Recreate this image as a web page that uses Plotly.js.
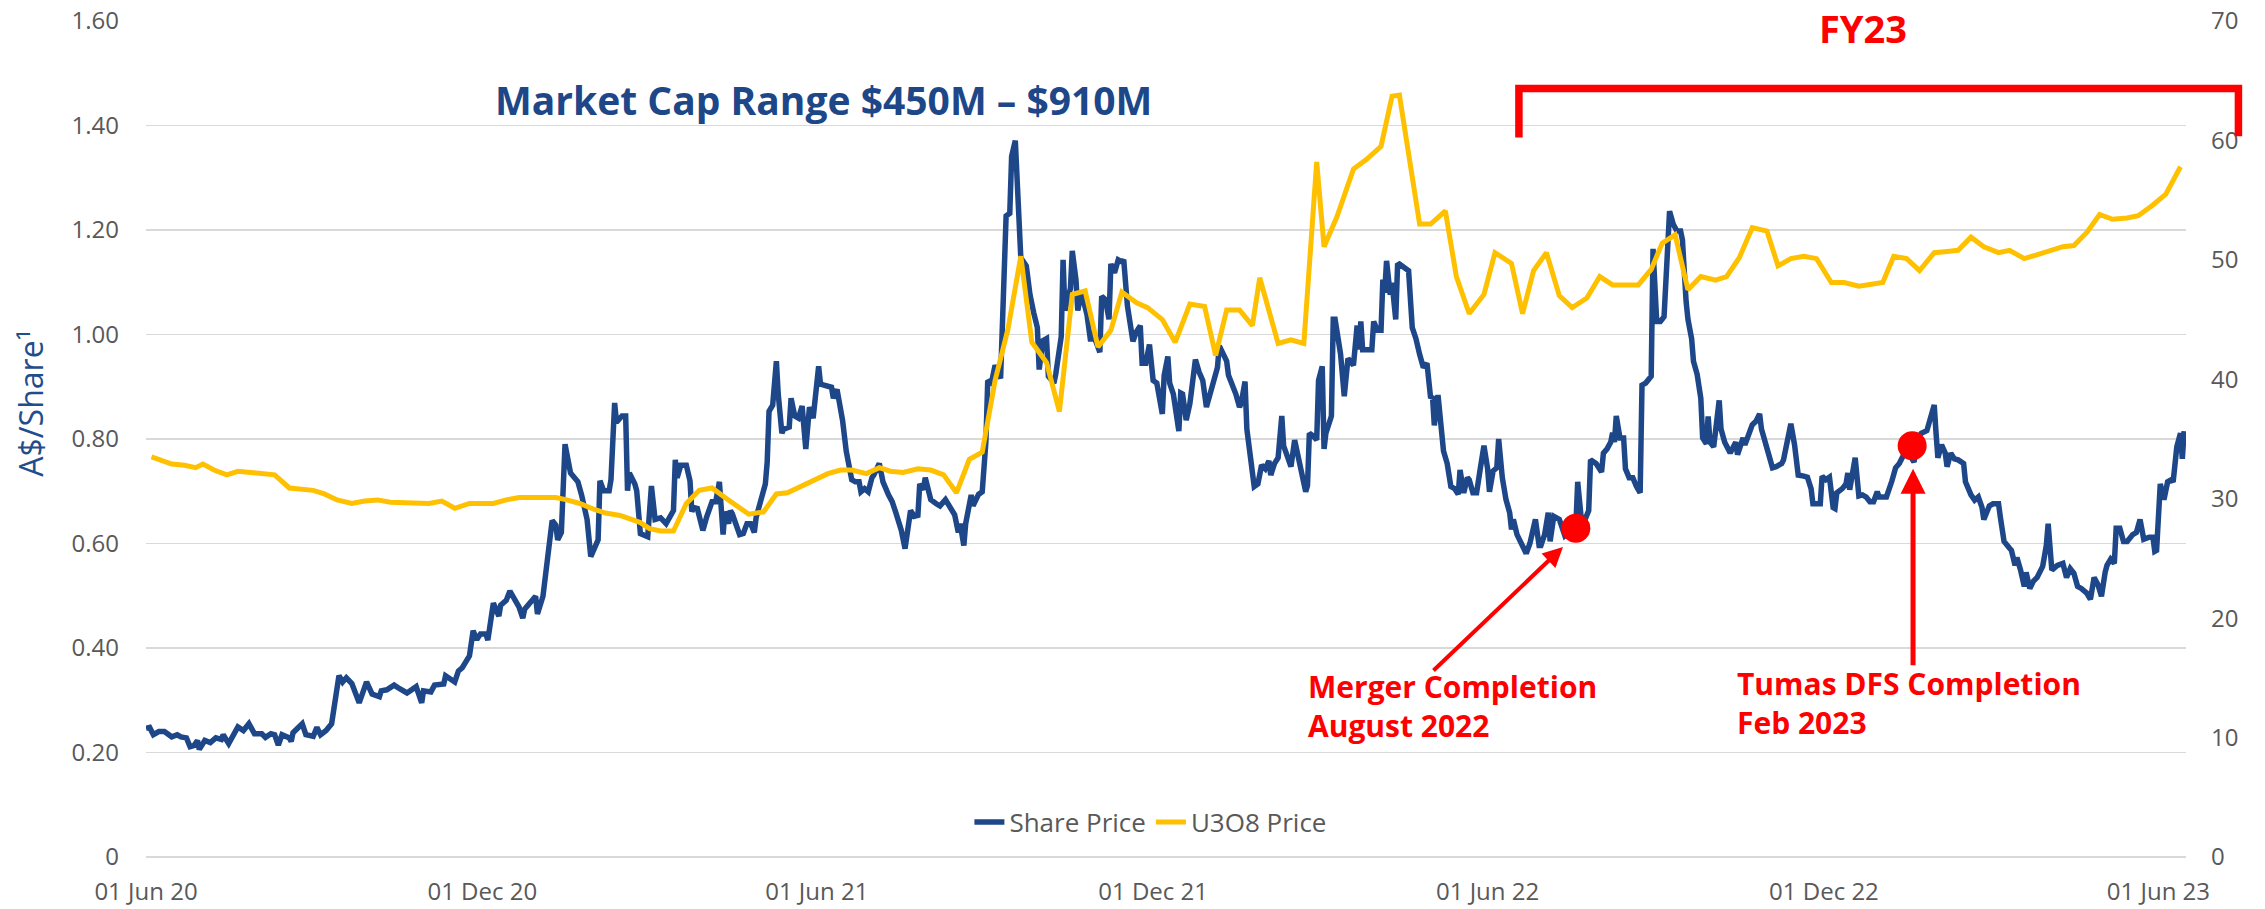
<!DOCTYPE html>
<html>
<head>
<meta charset="utf-8">
<script src="https://cdn.plot.ly/plotly-3.0.1.min.js"></script>
<style>html,body{margin:0;padding:0;background:#fff;}#chart{width:2265px;height:909px;}</style>
</head>
<body>
<div id="chart"></div>
<script>
// ---- Share price (A$/share) ----
const shareDates = [
'2020-06-01','2020-06-03','2020-06-05','2020-06-08','2020-06-11','2020-06-15','2020-06-18','2020-06-20','2020-06-23','2020-06-25','2020-06-27','2020-06-29','2020-06-30',
'2020-07-03','2020-07-06','2020-07-09','2020-07-12','2020-07-13','2020-07-16','2020-07-21','2020-07-24','2020-07-27','2020-07-30',
'2020-08-03','2020-08-05','2020-08-08','2020-08-10','2020-08-12','2020-08-14','2020-08-18','2020-08-19','2020-08-20','2020-08-25','2020-08-27','2020-08-31',
'2020-09-02','2020-09-04','2020-09-07','2020-09-10','2020-09-14','2020-09-16','2020-09-18','2020-09-21','2020-09-25','2020-09-29',
'2020-10-02','2020-10-06','2020-10-07','2020-10-10','2020-10-14','2020-10-17','2020-10-21','2020-10-26','2020-10-29','2020-10-30',
'2020-11-03','2020-11-05','2020-11-10','2020-11-11','2020-11-14','2020-11-16','2020-11-18','2020-11-20','2020-11-24','2020-11-25','2020-11-26','2020-11-28','2020-11-30',
'2020-12-03','2020-12-04','2020-12-07','2020-12-10','2020-12-11','2020-12-14','2020-12-16','2020-12-19','2020-12-21','2020-12-23','2020-12-24','2020-12-30','2020-12-31',
'2021-01-03','2021-01-06','2021-01-08','2021-01-10','2021-01-11','2021-01-13','2021-01-15','2021-01-18','2021-01-20','2021-01-22','2021-01-24','2021-01-27','2021-01-29','2021-01-31',
'2021-02-02','2021-02-03','2021-02-05','2021-02-08','2021-02-09','2021-02-11','2021-02-12','2021-02-15','2021-02-17','2021-02-18','2021-02-19','2021-02-22','2021-02-23','2021-02-25','2021-02-27',
'2021-03-01','2021-03-03','2021-03-05','2021-03-08','2021-03-11','2021-03-15','2021-03-16','2021-03-17','2021-03-19','2021-03-22','2021-03-24','2021-03-25','2021-03-26','2021-03-28','2021-03-31',
'2021-04-02','2021-04-05','2021-04-07','2021-04-09','2021-04-11','2021-04-12','2021-04-14','2021-04-15','2021-04-16','2021-04-18','2021-04-20','2021-04-22','2021-04-24','2021-04-26','2021-04-28','2021-04-29',
'2021-05-02','2021-05-04','2021-05-05','2021-05-06','2021-05-08','2021-05-10','2021-05-11','2021-05-13','2021-05-14','2021-05-17','2021-05-18','2021-05-20','2021-05-22','2021-05-24','2021-05-26','2021-05-28','2021-05-30',
'2021-06-02','2021-06-03','2021-06-06','2021-06-09','2021-06-10','2021-06-12','2021-06-15','2021-06-17','2021-06-20','2021-06-22','2021-06-24','2021-06-25','2021-06-27','2021-06-29',
'2021-07-01','2021-07-02','2021-07-05','2021-07-07','2021-07-10','2021-07-12','2021-07-14','2021-07-17','2021-07-19','2021-07-22','2021-07-24','2021-07-26','2021-07-27','2021-07-29','2021-07-30',
'2021-08-02','2021-08-05','2021-08-07','2021-08-10','2021-08-12','2021-08-15','2021-08-17','2021-08-18','2021-08-20','2021-08-21','2021-08-24','2021-08-25','2021-08-28','2021-08-30',
'2021-09-01','2021-09-02','2021-09-04','2021-09-06','2021-09-09','2021-09-10','2021-09-12','2021-09-14','2021-09-15','2021-09-17','2021-09-18','2021-09-20','2021-09-23','2021-09-25','2021-09-27','2021-09-29','2021-09-30',
'2021-10-02','2021-10-04','2021-10-05','2021-10-08','2021-10-09','2021-10-12','2021-10-13','2021-10-14','2021-10-17','2021-10-18','2021-10-20','2021-10-21','2021-10-23','2021-10-26','2021-10-28','2021-10-29',
'2021-11-01','2021-11-02','2021-11-03','2021-11-05','2021-11-07','2021-11-08','2021-11-10','2021-11-11','2021-11-12','2021-11-14','2021-11-15','2021-11-17','2021-11-20','2021-11-22','2021-11-24','2021-11-25','2021-11-27','2021-11-29',
'2021-12-01','2021-12-03','2021-12-06','2021-12-07','2021-12-09','2021-12-10','2021-12-12','2021-12-15','2021-12-16','2021-12-17','2021-12-19','2021-12-21','2021-12-24','2021-12-26','2021-12-28','2021-12-30',
'2022-01-01','2022-01-04','2022-01-05','2022-01-06','2022-01-08','2022-01-10','2022-01-11','2022-01-13','2022-01-15','2022-01-17','2022-01-18','2022-01-20','2022-01-21','2022-01-23','2022-01-25','2022-01-27','2022-01-29','2022-01-31',
'2022-02-02','2022-02-03','2022-02-05','2022-02-07','2022-02-09','2022-02-10','2022-02-13','2022-02-14','2022-02-16','2022-02-17','2022-02-19','2022-02-20','2022-02-22','2022-02-23','2022-02-24','2022-02-26','2022-02-28',
'2022-03-01','2022-03-03','2022-03-04','2022-03-05','2022-03-08','2022-03-09','2022-03-10','2022-03-13','2022-03-15','2022-03-17','2022-03-20','2022-03-22','2022-03-23','2022-03-24','2022-03-25','2022-03-30','2022-03-31',
'2022-04-02','2022-04-04','2022-04-05','2022-04-06','2022-04-07','2022-04-09','2022-04-10','2022-04-12','2022-04-13','2022-04-14','2022-04-19','2022-04-21','2022-04-23','2022-04-25','2022-04-27','2022-04-29',
'2022-05-01','2022-05-02','2022-05-03','2022-05-05','2022-05-06','2022-05-08','2022-05-10','2022-05-12','2022-05-14','2022-05-16','2022-05-17','2022-05-19','2022-05-21','2022-05-22','2022-05-24','2022-05-26','2022-05-28','2022-05-30',
'2022-06-01','2022-06-02','2022-06-04','2022-06-06','2022-06-07','2022-06-09','2022-06-11','2022-06-13','2022-06-14','2022-06-15','2022-06-17','2022-06-20','2022-06-22','2022-06-24','2022-06-27','2022-06-29','2022-06-30',
'2022-07-02','2022-07-04','2022-07-05','2022-07-07','2022-07-10','2022-07-13','2022-07-16','2022-07-19','2022-07-20','2022-07-22','2022-07-24','2022-07-26','2022-07-27','2022-07-30',
'2022-08-02','2022-08-03','2022-08-05','2022-08-07','2022-08-08','2022-08-09','2022-08-10','2022-08-12','2022-08-14','2022-08-15','2022-08-17','2022-08-19','2022-08-21','2022-08-23','2022-08-24','2022-08-26','2022-08-29','2022-08-30',
'2022-09-01','2022-09-03','2022-09-05','2022-09-06','2022-09-08','2022-09-10','2022-09-12','2022-09-14','2022-09-15','2022-09-17','2022-09-18','2022-09-20','2022-09-21','2022-09-23','2022-09-25','2022-09-26','2022-09-28','2022-09-29','2022-09-30',
'2022-10-02','2022-10-04','2022-10-05','2022-10-06','2022-10-08','2022-10-11','2022-10-14','2022-10-15','2022-10-18','2022-10-19','2022-10-21','2022-10-23','2022-10-25','2022-10-27','2022-10-28','2022-10-30',
'2022-11-01','2022-11-03','2022-11-05','2022-11-08','2022-11-09','2022-11-11','2022-11-13','2022-11-15','2022-11-17','2022-11-20','2022-11-22','2022-11-24','2022-11-25','2022-11-26','2022-11-29','2022-11-30',
'2022-12-02','2022-12-04','2022-12-06','2022-12-07','2022-12-08','2022-12-11','2022-12-13','2022-12-14','2022-12-15','2022-12-18','2022-12-20','2022-12-22','2022-12-24','2022-12-26','2022-12-28','2022-12-30','2022-12-31',
'2023-01-02','2023-01-04','2023-01-07','2023-01-09','2023-01-11','2023-01-13','2023-01-16','2023-01-19','2023-01-21','2023-01-23','2023-01-26','2023-01-28','2023-01-30','2023-01-31',
'2023-02-01','2023-02-03','2023-02-05','2023-02-06','2023-02-08','2023-02-10','2023-02-12','2023-02-15','2023-02-16','2023-02-19','2023-02-21','2023-02-23','2023-02-25','2023-02-26',
'2023-03-01','2023-03-03','2023-03-06','2023-03-07','2023-03-09','2023-03-12','2023-03-13','2023-03-15','2023-03-16','2023-03-18','2023-03-20','2023-03-21','2023-03-23','2023-03-25','2023-03-27','2023-03-30',
'2023-04-01','2023-04-02','2023-04-04','2023-04-07','2023-04-10','2023-04-12','2023-04-14','2023-04-16','2023-04-18','2023-04-20','2023-04-23','2023-04-25','2023-04-27','2023-04-29',
'2023-05-01','2023-05-03','2023-05-04','2023-05-06','2023-05-08','2023-05-09','2023-05-11','2023-05-13','2023-05-15','2023-05-18','2023-05-20','2023-05-22','2023-05-24','2023-05-27','2023-05-29','2023-05-30','2023-05-31',
'2023-06-02','2023-06-04','2023-06-06','2023-06-08','2023-06-09','2023-06-11','2023-06-13','2023-06-14','2023-06-15'
];
const sharePrice = [
0.246,0.248,0.234,0.240,0.240,0.230,0.234,0.230,0.228,0.211,0.213,0.223,0.206,
0.223,0.219,0.228,0.225,0.234,0.217,0.249,0.242,0.255,0.236,
0.236,0.229,0.236,0.234,0.214,0.234,0.228,0.221,0.238,0.255,0.234,0.231,
0.248,0.234,0.242,0.255,0.347,0.335,0.343,0.332,0.295,0.335,
0.312,0.307,0.318,0.320,0.329,0.322,0.314,0.326,0.295,0.318,
0.316,0.329,0.331,0.347,0.339,0.335,0.356,0.362,0.385,0.419,0.433,0.416,0.427,
0.427,0.415,0.486,0.461,0.482,0.491,0.509,0.491,0.478,0.457,0.474,0.499,0.465,
0.499,0.576,0.644,0.635,0.607,0.621,0.790,0.735,0.726,0.718,0.693,0.646,0.575,0.590,
0.607,0.720,0.701,0.701,0.722,0.869,0.832,0.844,0.844,0.701,0.735,0.714,0.701,0.619,0.615,
0.613,0.710,0.646,0.649,0.638,0.663,0.760,0.726,0.750,0.750,0.720,0.661,0.669,0.667,0.625,
0.650,0.680,0.680,0.718,0.617,0.661,0.638,0.663,0.657,0.638,0.617,0.619,0.638,0.638,0.621,0.650,
0.688,0.714,0.756,0.853,0.865,0.949,0.886,0.811,0.819,0.823,0.878,0.844,0.840,0.863,0.781,0.861,0.840,
0.939,0.905,0.902,0.899,0.878,0.895,0.836,0.777,0.722,0.718,0.718,0.699,0.705,0.699,
0.726,0.731,0.753,0.718,0.693,0.680,0.659,0.625,0.590,0.663,0.652,0.654,0.714,0.703,0.726,
0.684,0.676,0.672,0.684,0.672,0.655,0.621,0.638,0.596,0.638,0.693,0.672,0.694,0.699,
0.794,0.912,0.907,0.941,0.916,1.004,1.227,1.232,1.341,1.371,1.299,1.147,1.131,1.076,1.042,1.013,0.933,
0.988,0.992,0.920,0.907,0.924,0.996,1.143,1.046,1.088,1.160,1.105,1.046,1.080,1.038,0.987,1.004,
0.975,0.966,1.073,1.067,1.029,1.135,1.118,1.131,1.143,1.139,1.143,1.055,0.987,1.006,1.017,0.945,0.945,0.981,
0.912,0.907,0.848,0.922,0.958,0.907,0.886,0.815,0.888,0.886,0.836,0.868,0.952,0.928,0.912,0.861,
0.886,0.928,0.937,0.978,0.962,0.949,0.922,0.905,0.886,0.861,0.870,0.910,0.819,0.764,0.709,0.714,0.750,0.743,
0.758,0.731,0.753,0.764,0.844,0.787,0.752,0.747,0.798,0.781,0.760,0.731,0.699,0.711,0.811,0.806,0.798,
0.912,0.939,0.781,0.811,0.844,1.029,1.029,0.962,0.882,0.954,0.941,1.017,0.971,1.025,0.971,0.971,1.025,
1.008,1.008,1.105,1.080,1.141,1.076,1.099,1.029,1.133,1.135,1.122,1.013,0.992,0.962,0.937,0.945,
0.878,0.882,0.826,0.884,0.844,0.777,0.753,0.709,0.705,0.694,0.741,0.697,0.726,0.722,0.697,0.697,0.743,0.787,
0.743,0.699,0.739,0.745,0.800,0.726,0.684,0.659,0.627,0.646,0.617,0.596,0.581,0.600,0.646,0.596,0.596,
0.617,0.659,0.604,0.652,0.646,0.615,0.625,0.633,0.718,0.646,0.646,0.663,0.760,0.753,
0.737,0.773,0.781,0.794,0.812,0.794,0.844,0.802,0.802,0.743,0.726,0.726,0.709,0.697,0.903,0.907,0.920,1.164,
1.025,1.025,1.034,1.097,1.236,1.211,1.198,1.198,1.181,1.063,1.029,0.992,0.949,0.924,0.878,0.802,0.791,0.843,0.794,
0.785,0.848,0.874,0.819,0.794,0.773,0.794,0.770,0.802,0.789,0.811,0.827,0.834,0.848,0.819,0.794,
0.773,0.745,0.747,0.753,0.760,0.794,0.829,0.789,0.731,0.729,0.727,0.705,0.676,0.676,0.676,0.729,
0.722,0.727,0.669,0.667,0.697,0.705,0.714,0.735,0.703,0.764,0.691,0.693,0.689,0.680,0.680,0.699,0.689,
0.689,0.689,0.720,0.745,0.753,0.767,0.773,0.756,0.802,0.811,0.816,0.844,0.865,0.811,
0.764,0.789,0.773,0.747,0.773,0.762,0.760,0.753,0.718,0.693,0.683,0.689,0.669,0.646,
0.672,0.676,0.676,0.650,0.604,0.591,0.587,0.558,0.573,0.549,0.518,0.545,0.514,0.528,0.535,0.556,
0.596,0.638,0.549,0.558,0.562,0.535,0.552,0.543,0.518,0.514,0.505,0.493,0.535,0.522,
0.499,0.545,0.558,0.570,0.562,0.629,0.629,0.604,0.604,0.617,0.621,0.646,0.608,0.612,0.612,0.585,0.587,
0.714,0.684,0.718,0.722,0.718,0.785,0.811,0.762,0.815
];

// ---- U3O8 spot price (US$/lb), right axis ----
const u3o8Dates = [
'2020-06-04','2020-06-15','2020-06-22','2020-06-28','2020-07-02','2020-07-08','2020-07-15','2020-07-21','2020-08-10','2020-08-18','2020-08-31',
'2020-09-06','2020-09-13','2020-09-21','2020-09-28','2020-10-05','2020-10-12','2020-10-26','2020-11-02','2020-11-09','2020-11-16','2020-11-24',
'2020-12-07','2020-12-14','2020-12-21','2020-12-30','2021-01-10','2021-01-16','2021-01-23','2021-01-31','2021-02-06','2021-02-14','2021-02-20','2021-02-25',
'2021-03-02','2021-03-08','2021-03-15','2021-03-22','2021-03-29','2021-04-05','2021-04-12','2021-04-19','2021-04-25','2021-05-03','2021-05-10','2021-05-16','2021-05-23','2021-05-31',
'2021-06-07','2021-06-14','2021-06-20','2021-06-28','2021-07-05','2021-07-11','2021-07-18','2021-07-26','2021-08-02','2021-08-09','2021-08-16','2021-08-23','2021-08-30',
'2021-09-06','2021-09-13','2021-09-20','2021-09-26','2021-10-04','2021-10-11','2021-10-18','2021-10-25','2021-11-01','2021-11-08','2021-11-14','2021-11-22','2021-11-28',
'2021-12-06','2021-12-13','2021-12-21','2021-12-29','2022-01-04','2022-01-10','2022-01-17','2022-01-24','2022-01-28','2022-02-07','2022-02-14','2022-02-21','2022-02-28',
'2022-03-04','2022-03-11','2022-03-20','2022-03-27','2022-04-04','2022-04-10','2022-04-14','2022-04-25','2022-05-01','2022-05-09','2022-05-15','2022-05-22','2022-05-30',
'2022-06-05','2022-06-14','2022-06-20','2022-06-26','2022-07-03','2022-07-10','2022-07-17','2022-07-25','2022-08-01','2022-08-08','2022-08-15','2022-08-22','2022-08-29',
'2022-09-04','2022-09-11','2022-09-18','2022-09-25','2022-10-03','2022-10-09','2022-10-16','2022-10-23','2022-10-31','2022-11-06','2022-11-13','2022-11-20','2022-11-27',
'2022-12-05','2022-12-12','2022-12-20','2022-12-26','2023-01-02','2023-01-08','2023-01-15','2023-01-22','2023-01-30','2023-02-06','2023-02-12','2023-02-19','2023-02-26',
'2023-03-06','2023-03-12','2023-03-20','2023-03-27','2023-04-03','2023-04-10','2023-04-16','2023-04-23','2023-04-30','2023-05-07','2023-05-15','2023-05-21','2023-05-29',
'2023-06-05','2023-06-13'
];
const u3o8Price = [
33.5,32.9,32.8,32.6,32.9,32.4,32.0,32.3,32.0,30.9,30.7,
30.4,29.9,29.6,29.8,29.9,29.7,29.6,29.6,29.8,29.2,29.6,
29.6,29.9,30.1,30.1,30.1,29.9,29.6,29.1,28.8,28.6,28.3,28.0,
27.5,27.3,27.3,29.6,30.7,30.9,30.1,29.3,28.7,28.9,30.4,30.5,31.0,31.5,
32.1,32.4,32.4,32.1,32.6,32.3,32.2,32.5,32.4,32.0,30.5,33.3,33.9,
39.9,44.2,50.3,43.1,41.4,37.3,47.1,47.4,42.7,44.1,47.3,46.4,46.0,
45.0,43.1,46.3,46.1,42.0,45.8,45.8,44.5,48.5,43.0,43.3,43.0,58.2,
51.1,53.6,57.6,58.4,59.5,63.7,63.8,53.0,53.0,54.1,48.6,45.5,47.1,
50.6,49.7,45.5,49.1,50.6,47.0,46.0,46.8,48.6,47.9,47.9,47.9,49.2,
51.4,52.1,47.5,48.6,48.3,48.6,50.2,52.7,52.4,49.5,50.1,50.3,50.1,
48.1,48.1,47.8,47.9,48.1,50.3,50.1,49.1,50.6,50.7,50.8,51.9,51.1,
50.6,50.8,50.1,50.4,50.8,51.1,51.2,52.3,53.8,53.4,53.5,53.7,54.6,
55.5,57.8
];

// ---- Event markers on the share price line ----
const eventDates = ['2022-07-19','2023-01-18'];
const eventPrices = [0.629, 0.787];
const eventLabels = ['Merger Completion<br>August 2022','Tumas DFS Completion<br>Feb 2023'];

// ---- Axis ticks ----
const xTickVals = ['2020-06-01','2020-12-01','2021-06-01','2021-12-01','2022-06-01','2022-12-01','2023-06-01'];
const xTickText = ['01 Jun 20','01 Dec 20','01 Jun 21','01 Dec 21','01 Jun 22','01 Dec 22','01 Jun 23'];
const yTickVals = [0,0.2,0.4,0.6,0.8,1.0,1.2,1.4,1.6];
const yTickText = ['0','0.20','0.40','0.60','0.80','1.00','1.20','1.40','1.60'];
const y2TickVals = [0,10,20,30,40,50,60,70];
const y2TickText = ['0','10','20','30','40','50','60','70'];

const FONT = "'Open Sans', 'Noto Sans', sans-serif";
const BLUE = '#1D4788';
const GOLD = '#FFC000';
const RED = '#FF0000';
const GREY = '#595959';

const traces = [
  {x: shareDates, y: sharePrice, type: 'scatter', mode: 'lines', name: 'Share Price',
   line: {color: BLUE, width: 5.5}, yaxis: 'y'},
  {x: u3o8Dates, y: u3o8Price, type: 'scatter', mode: 'lines', name: 'U3O8 Price',
   line: {color: GOLD, width: 5}, yaxis: 'y2'},
  {x: eventDates, y: eventPrices, type: 'scatter', mode: 'markers', showlegend: false,
   marker: {color: RED, size: 29}, yaxis: 'y', hoverinfo: 'skip'}
];

const layout = {
  width: 2265, height: 909,
  margin: {l: 146, r: 79, t: 21, b: 52},
  paper_bgcolor: '#fff', plot_bgcolor: '#fff',
  font: {family: FONT, color: GREY},
  showlegend: true,
  legend: {orientation: 'h', x: 0.4926, xanchor: 'center', y: 0.0416, yanchor: 'middle',
           font: {size: 26, color: GREY, family: FONT}, bgcolor: 'rgba(0,0,0,0)', itemwidth: 30},
  xaxis: {type: 'date', range: ['2020-06-01', '2023-06-16'], tickvals: xTickVals, ticktext: xTickText,
          showgrid: false, zeroline: false, showline: false, ticks: '',
          tickfont: {size: 24, color: GREY, family: FONT}, ticklabelstandoff: 18, automargin: false},
  yaxis: {range: [0, 1.6], tickvals: yTickVals, ticktext: yTickText, showgrid: true,
          gridcolor: '#D9D9D9', gridwidth: 1.5, zeroline: true, zerolinecolor: '#D9D9D9', zerolinewidth: 1.5,
          showline: false, ticks: '', tickfont: {size: 24, color: GREY, family: FONT},
          ticklabelstandoff: 26, automargin: false},
  yaxis2: {range: [0, 70], tickvals: y2TickVals, ticktext: y2TickText, overlaying: 'y', side: 'right',
           showgrid: false, zeroline: false, showline: false, ticks: '',
           tickfont: {size: 24, color: GREY, family: FONT}, ticklabelstandoff: 24, automargin: false},
  shapes: [
    {type: 'path', xref: 'paper', yref: 'paper',
     path: 'M 0.6730 0.8607 L 0.6730 0.9194 L 1.0257 0.9194 L 1.0257 0.8620',
     line: {color: RED, width: 7.5}}
  ],
  annotations: [
    {xref: 'paper', yref: 'paper', x: -0.0564, y: 0.5434, xanchor: 'center', yanchor: 'middle', showarrow: false,
     textangle: -90, text: 'A$/Share¹', font: {size: 32, color: '#1F4E8C', family: FONT}},
    {xref: 'paper', yref: 'paper', x: 0.3319, y: 0.9062, xanchor: 'center', yanchor: 'middle', showarrow: false,
     text: '<b>Market Cap Range $450M – $910M</b>', font: {size: 39, color: BLUE, family: FONT}},
    {xref: 'paper', yref: 'paper', x: 0.8417, y: 1.0236, xanchor: 'center', yanchor: 'top', showarrow: false,
     borderpad: 0, text: '<b>FY23</b>', font: {size: 38, color: RED, family: FONT}},
    {xref: 'paper', yref: 'paper', x: 0.5686, y: 0.1805, xanchor: 'left', yanchor: 'middle', align: 'left', showarrow: false,
     text: '<b>' + eventLabels[0] + '</b>', font: {size: 30, color: RED, family: FONT}},
    {xref: 'paper', yref: 'paper', x: 0.7789, y: 0.1840, xanchor: 'left', yanchor: 'middle', align: 'left', showarrow: false,
     text: '<b>' + eventLabels[1] + '</b>', font: {size: 30, color: RED, family: FONT}},
    {xref: 'paper', yref: 'paper', x: 0.6946, y: 0.3709, text: '', showarrow: true,
     ax: -131, ay: 125, arrowhead: 2, arrowsize: 1, arrowwidth: 4, arrowcolor: RED, standoff: 0},
    {xref: 'paper', yref: 'paper', x: 0.8662, y: 0.4643, text: '', showarrow: true,
     ax: 0, ay: 198, arrowhead: 2, arrowsize: 1, arrowwidth: 5, arrowcolor: RED, standoff: 0}
  ]
};

Plotly.newPlot('chart', traces, layout, {staticPlot: true, displayModeBar: false});
</script>
</body>
</html>
